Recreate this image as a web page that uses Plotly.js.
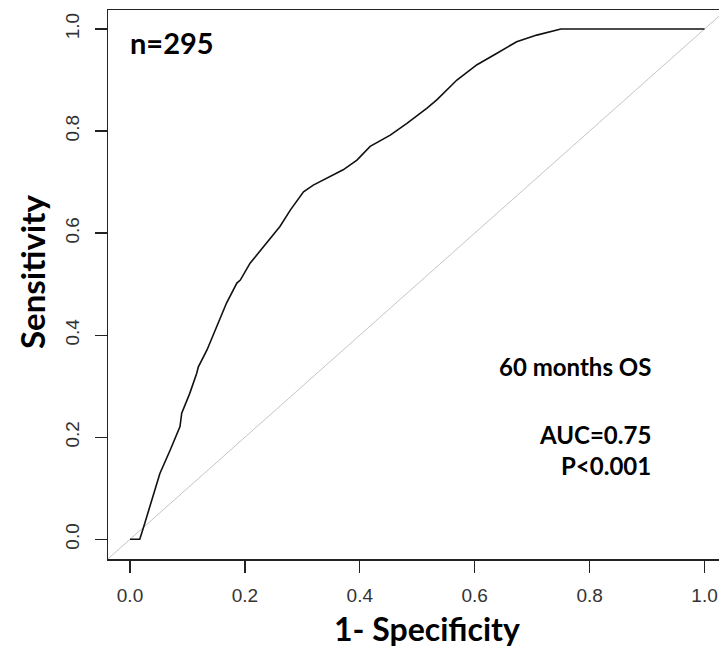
<!DOCTYPE html>
<html>
<head>
<meta charset="utf-8">
<script src="https://cdn.plot.ly/plotly-3.0.1.min.js"></script>
<style>
  html, body { margin: 0; padding: 0; background: #fff; }
  #chart { width: 719px; height: 657px; }
</style>
</head>
<body>
<div id="chart"></div>
<script>
// ROC curve for 60 months overall survival (n = 295)
const fpr = [0, 0.017, 0.024, 0.035, 0.044, 0.052, 0.070, 0.087, 0.090, 0.104, 0.116, 0.119,
             0.134, 0.151, 0.168, 0.186, 0.192, 0.209, 0.232, 0.261, 0.279, 0.302, 0.319,
             0.342, 0.371, 0.395, 0.418, 0.453, 0.482, 0.517, 0.534, 0.569, 0.604, 0.638,
             0.673, 0.708, 0.743, 0.750, 1.000];
const tpr = [0, 0, 0.025, 0.064, 0.100, 0.129, 0.175, 0.221, 0.247, 0.286, 0.325, 0.338,
             0.371, 0.417, 0.463, 0.502, 0.508, 0.541, 0.573, 0.613, 0.645, 0.681, 0.694,
             0.707, 0.724, 0.743, 0.770, 0.792, 0.815, 0.845, 0.861, 0.900, 0.930, 0.952,
             0.975, 0.988, 0.998, 1.000, 1.000];

// chance line y = x across the whole plotting region
const chance = [-0.05, 1.05];

const tickVals = [0, 0.2, 0.4, 0.6, 0.8, 1.0];
const tickText = ['0.0', '0.2', '0.4', '0.6', '0.8', '1.0'];

const xTitle = '1- Specificity';
const yTitle = 'Sensitivity';
const sampleLabel = 'n=295';
const endpointLabel = '60 months OS';
const aucLabel = 'AUC=0.75';
const pLabel = 'P<0.001';

const traces = [
  {
    x: chance, y: chance, mode: 'lines', type: 'scatter',
    line: { color: '#c4c4c4', width: 1 }, hoverinfo: 'skip'
  },
  {
    x: fpr, y: tpr, mode: 'lines', type: 'scatter',
    line: { color: '#111', width: 1.6 }
  }
];

const tickFont = { family: 'Liberation Sans, Arial, sans-serif', size: 19, color: '#333' };
const boldFont = 'Lato, Carlito, sans-serif';

function label(text, x, y, xanchor, size, extra) {
  return Object.assign({
    x: x, y: y, xref: 'x', yref: 'y', xanchor: xanchor, yanchor: 'middle',
    text: '<b>' + text + '</b>', showarrow: false,
    font: { family: boldFont, size: size, color: '#000' }
  }, extra || {});
}

const layout = {
  width: 719, height: 657,
  margin: { l: 108, r: 0, t: 10, b: 98 },
  paper_bgcolor: '#fff', plot_bgcolor: '#fff',
  showlegend: false,
  xaxis: {
    range: [-0.0383, 1.0252],
    tickvals: tickVals, ticktext: tickText,
    ticks: 'outside', ticklen: 12, tickwidth: 1.3, tickcolor: '#222',
    ticklabelstandoff: 7,
    showline: true, linecolor: '#222', linewidth: 1.5, mirror: true,
    showgrid: false, zeroline: false,
    tickfont: tickFont
  },
  yaxis: {
    range: [-0.0386, 1.0372],
    tickvals: tickVals, ticktext: tickText, tickangle: -90,
    ticks: 'outside', ticklen: 12, tickwidth: 1.3, tickcolor: '#222',
    ticklabelstandoff: 8,
    showline: true, linecolor: '#222', linewidth: 1.5, mirror: false,
    showgrid: false, zeroline: false,
    tickfont: tickFont
  },
  annotations: [
    label(xTitle, 0.522, -0.1257, 'center', 32, { xref: 'paper', yref: 'paper' }),
    label(yTitle, -0.1244, 0.5228, 'center', 33, { xref: 'paper', yref: 'paper', textangle: -90 }),
    label(sampleLabel, -0.0035, 0.974, 'left', 29),
    label(endpointLabel, 0.910, 0.3396, 'right', 24),
    label(aucLabel, 0.910, 0.2045, 'right', 24),
    label(pLabel, 0.910, 0.1456, 'right', 24)
  ]
};

Plotly.newPlot('chart', traces, layout, { displayModeBar: false, staticPlot: true });
</script>
</body>
</html>
